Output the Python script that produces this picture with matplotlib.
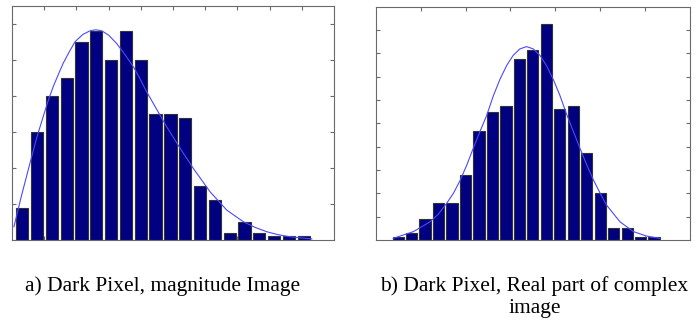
import matplotlib
matplotlib.use("Agg")
import matplotlib.pyplot as plt

# ---- Data: (a) magnitude image histogram ----
mag_centers = [0.32, 0.78, 1.24, 1.70, 2.16, 2.62, 3.08, 3.54, 4.00, 4.46,
               4.92, 5.38, 5.84, 6.30, 6.76, 7.22, 7.68, 8.14, 8.60, 9.06]
mag_counts = [9, 30, 40, 45, 55, 58, 50, 58, 50, 35,
              35, 34, 15, 11, 2, 5, 2, 1, 1, 1]
mag_fit_x = [0.06, 0.30, 0.56, 0.77, 0.97, 1.12, 1.28, 1.44, 1.59, 1.78, 1.96,
             2.20, 2.42, 2.60, 2.79, 3.00, 3.25, 3.50, 3.77, 3.98, 4.18, 4.50,
             4.80, 5.22, 5.63, 6.15, 6.67, 7.18, 7.55, 7.91, 8.25, 8.63, 9.31]
mag_fit_y = [3.7, 12.5, 21.4, 28.5, 34.3, 38.6, 42.6, 46.0, 49.1, 52.3, 55.1,
             57.1, 58.1, 58.4, 58.1, 56.9, 54.6, 51.6, 48.1, 44.7, 41.2, 36.2,
             31.5, 25.5, 19.9, 13.4, 8.3, 5.1, 3.5, 2.3, 1.5, 0.9, 0.3]

# ---- Data: (b) real part of complex image histogram ----
re_centers = [0.5, 0.8, 1.1, 1.4, 1.7, 2.0, 2.3, 2.6, 2.9, 3.2,
              3.5, 3.8, 4.1, 4.4, 4.7, 5.0, 5.3, 5.6, 5.9, 6.2]
re_counts = [0.13, 0.29, 0.91, 1.6, 1.6, 2.8, 4.66, 5.47, 5.74, 7.74,
             8.14, 9.24, 5.61, 5.74, 3.73, 2.0, 0.53, 0.53, 0.13, 0.13]
re_fit_x = [0.39, 0.84, 1.21, 1.40, 1.58, 1.73, 1.88, 2.03, 2.17, 2.32, 2.47,
            2.62, 2.77, 2.92, 3.06, 3.21, 3.36, 3.51, 3.66, 3.81, 3.96, 4.10,
            4.25, 4.40, 4.55, 4.70, 4.85, 5.00, 5.14, 5.44, 5.74, 6.03, 6.33]
re_fit_y = [0.07, 0.36, 0.78, 1.12, 1.57, 2.00, 2.55, 3.22, 3.92, 4.64, 5.33,
            6.18, 6.90, 7.49, 7.91, 8.19, 8.29, 8.19, 7.91, 7.45, 6.86, 6.21,
            5.40, 4.66, 3.93, 3.22, 2.57, 2.00, 1.50, 0.78, 0.36, 0.17, 0.07]

captions = ["a) Dark Pixel, magnitude Image",
            "b) Dark Pixel, Real part of complex", "image"]

bar_color = "#000080"
line_color = "#4a4aff"
spine_color = "#6a6a6a"

fig = plt.figure(figsize=(6.97, 3.2), dpi=100)
ax1 = fig.add_axes([12 / 697, 80 / 320, 322 / 697, 234 / 320])
ax2 = fig.add_axes([375.7 / 697, 80 / 320, 314.3 / 697, 233.3 / 320])


def style(ax, xticks, yticks, xlim, ylim):
    ax.set_xlim(*xlim)
    ax.set_ylim(*ylim)
    ax.set_xticks(xticks)
    ax.set_yticks(yticks)
    ax.tick_params(direction="in", length=3, width=0.8, color=spine_color,
                   top=True, right=True, labelbottom=False, labelleft=False)
    for s in ax.spines.values():
        s.set_color(spine_color)
        s.set_linewidth(0.8)


ax1.bar(mag_centers, mag_counts, width=0.38, color=bar_color,
        edgecolor="#333333", linewidth=0.8, zorder=2)
ax1.plot(mag_fit_x, mag_fit_y, color=line_color, linewidth=0.8, zorder=3)
style(ax1, range(1, 10), range(10, 61, 10), (0, 10), (0, 65))

ax2.bar(re_centers, re_counts, width=0.25, color=bar_color,
        edgecolor="#333333", linewidth=0.8, zorder=2)
ax2.plot(re_fit_x, re_fit_y, color=line_color, linewidth=0.8, zorder=3)
style(ax2, range(1, 7), range(1, 10), (0, 7), (0, 10))

font = dict(family="Liberation Serif", fontsize=15.5, va="baseline", ha="center")
fig.text(162.8 / 697, 1 - 291 / 320, captions[0], **font)
fig.text(534.5 / 697, 1 - 291 / 320, captions[1], **font)
fig.text(534.5 / 697, 1 - 312.5 / 320, captions[2], **font)

fig.savefig("out.png", dpi=100)
